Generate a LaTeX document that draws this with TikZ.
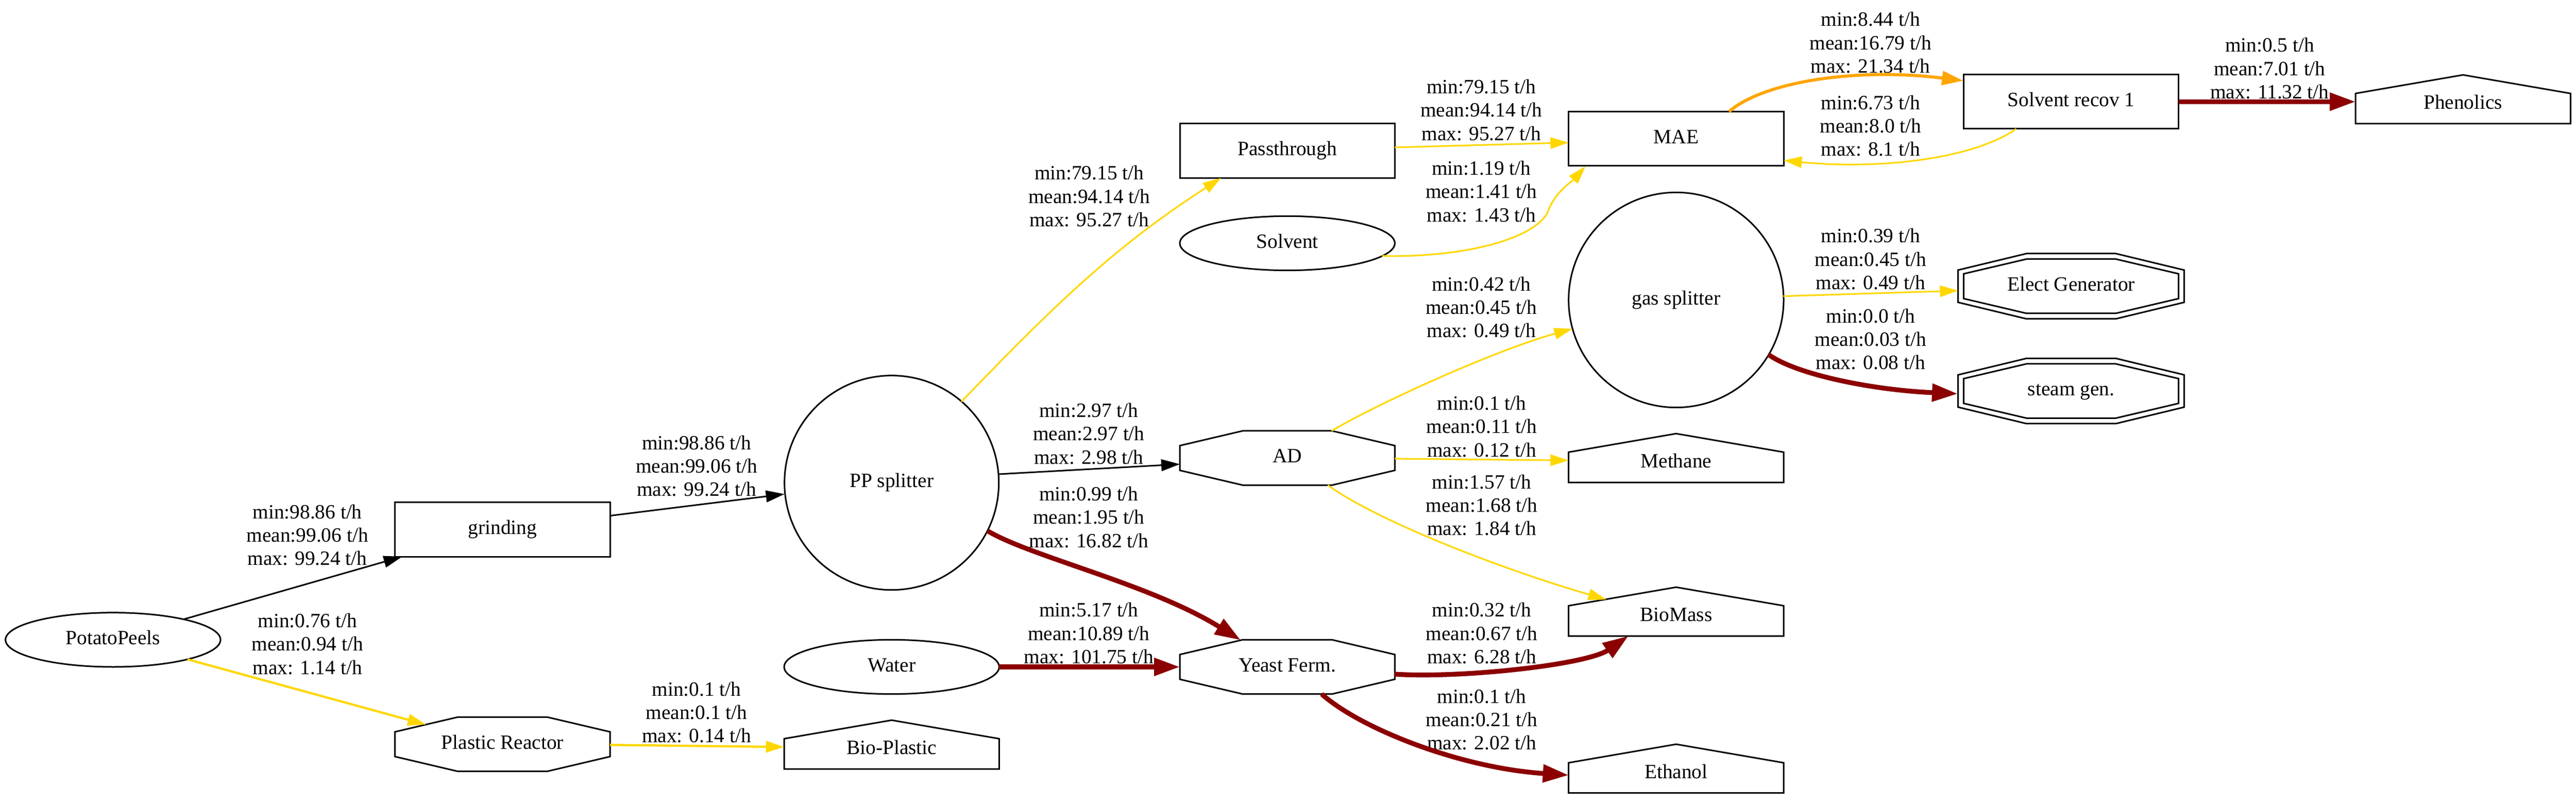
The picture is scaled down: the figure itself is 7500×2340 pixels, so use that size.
\documentclass[tikz,border=0pt]{standalone}
\usepackage{fontspec}
\setmainfont{Liberation Serif}
\usetikzlibrary{arrows.meta,calc,shapes.geometric}
\definecolor{gvgold}{HTML}{FFD700}
\definecolor{gvred}{HTML}{8B0000}
\definecolor{gvorange}{HTML}{FFA500}
\newcommand\gvoct[1]{\draw[gvline, shift={(#1)}] (-313,-36) -- (-130,-79) -- (130,-79) -- (313,-36) -- (313,36) -- (130,79) -- (-130,79) -- (-313,36) -- cycle;}
\newcommand\gvdoct[1]{\gvoct{#1}\draw[gvline, shift={(#1)}] (-329,-47) -- (-130,-95) -- (130,-95) -- (329,-47) -- (329,47) -- (130,95) -- (-130,95) -- (-329,47) -- cycle;}
\newcommand\gvhouse[1]{\draw[gvline, shift={(#1)}] (-313,71) -- (-313,-17) -- (0,-71) -- (313,-17) -- (313,71) -- cycle;}
\begin{document}
\begin{tikzpicture}[x=0.2pt,y=-0.2pt,
  every node/.style={font=\fontsize{11.8}{13.6}\selectfont, inner sep=0pt, outer sep=0pt},
  gvline/.style={line width=0.9pt, line join=miter},
  shp/.style={text height=8pt, text depth=2.5pt, minimum width=125.2pt, minimum height=31.6pt},
  ellip/.style={shp, ellipse, draw, gvline},
  boxnode/.style={shp, rectangle, draw, gvline},
  circnode/.style={circle, draw, gvline, minimum size=124.8pt, text height=8pt, text depth=2.5pt},
  octnode/.style={shp, rectangle},
  housenode/.style={rectangle, minimum width=125.2pt, minimum height=28.6pt, text height=13.9pt, text depth=2.5pt},
  lbl/.style={align=center},
  blk/.style={line width=0.9pt, black, -{Triangle[length=10.8pt, width=6.8pt]}},
  yel/.style={line width=0.95pt, gvgold, -{Triangle[length=10.6pt, width=6.6pt]}},
  org/.style={line width=1.8pt, gvorange, -{Triangle[length=12.4pt, width=8pt]}},
  red/.style={line width=2.8pt, gvred, -{Triangle[length=15pt, width=10pt]}}
]
\useasboundingbox (0,0) rectangle (7500,2340);

% nodes
\node[ellip] (potato) at (329,1862) {PotatoPeels};
\node[boxnode] (grinding) at (1463,1541) {grinding};
\node[octnode] (plastic) at (1463,2166) {Plastic Reactor};
\node[circnode] (pp) at (2596,1405) {PP splitter};
\node[ellip] (water) at (2596,1941) {Water};
\node[housenode] (bioplastic) at (2596,2167) {Bio-Plastic};
\node[octnode] (ad) at (3748,1333) {AD};
\node[octnode] (yeast) at (3748,1941) {Yeast Ferm.};
\node[boxnode] (pass) at (3748,439) {Passthrough};
\node[ellip] (solvent) at (3748,708) {Solvent};
\node[boxnode] (mae) at (4880,404) {MAE};
\node[circnode, minimum size=125.2pt] (gas) at (4880,873) {gas splitter};
\node[housenode] (methane) at (4880,1333) {Methane};
\node[housenode] (biomass) at (4880,1780) {BioMass};
\node[housenode] (ethanol) at (4880,2237) {Ethanol};
\node[boxnode] (recov) at (6030,296) {Solvent recov 1};
\node[housenode] (phenolics) at (7171,289) {Phenolics};
\node[octnode] (elect) at (6030,833) {Elect Generator};
\node[octnode] (steam) at (6030,1138) {steam gen.};

\gvoct{plastic}
\gvoct{ad}
\gvoct{yeast}
\gvdoct{elect}
\gvdoct{steam}
\gvhouse{bioplastic}
\gvhouse{methane}
\gvhouse{biomass}
\gvhouse{ethanol}
\gvhouse{phenolics}

% edge labels
\node[lbl] (l1) at (895,1557) {min:98.86 t/h\\mean:99.06 t/h\\max: 99.24 t/h};
\node[lbl] (l2) at (895,1874) {min:0.76 t/h\\mean:0.94 t/h\\max: 1.14 t/h};
\node[lbl] (l3) at (2028,1356) {min:98.86 t/h\\mean:99.06 t/h\\max: 99.24 t/h};
\node[lbl] (l4) at (2028,2073) {min:0.1 t/h\\mean:0.1 t/h\\max: 0.14 t/h};
\node[lbl] (l5) at (3171,571) {min:79.15 t/h\\mean:94.14 t/h\\max: 95.27 t/h};
\node[lbl] (l6) at (3170,1262) {min:2.97 t/h\\mean:2.97 t/h\\max: 2.98 t/h};
\node[lbl] (l7) at (3170,1505) {min:0.99 t/h\\mean:1.95 t/h\\max: 16.82 t/h};
\node[lbl] (l8) at (3170,1843) {min:5.17 t/h\\mean:10.89 t/h\\max: 101.75 t/h};
\node[lbl] (l9) at (4313,320) {min:79.15 t/h\\mean:94.14 t/h\\max: 95.27 t/h};
\node[lbl] (l10) at (4313,557) {min:1.19 t/h\\mean:1.41 t/h\\max: 1.43 t/h};
\node[lbl] (l11) at (4313,894) {min:0.42 t/h\\mean:0.45 t/h\\max: 0.49 t/h};
\node[lbl] (l12) at (4314,1241) {min:0.1 t/h\\mean:0.11 t/h\\max: 0.12 t/h};
\node[lbl] (l13) at (4314,1470) {min:1.57 t/h\\mean:1.68 t/h\\max: 1.84 t/h};
\node[lbl] (l14) at (4314,1843) {min:0.32 t/h\\mean:0.67 t/h\\max: 6.28 t/h};
\node[lbl] (l15) at (4314,2094) {min:0.1 t/h\\mean:0.21 t/h\\max: 2.02 t/h};
\node[lbl] (l16) at (5446,124) {min:8.44 t/h\\mean:16.79 t/h\\max: 21.34 t/h};
\node[lbl] (l17) at (5446,366) {min:6.73 t/h\\mean:8.0 t/h\\max: 8.1 t/h};
\node[lbl] (l18) at (5446,754) {min:0.39 t/h\\mean:0.45 t/h\\max: 0.49 t/h};
\node[lbl] (l19) at (5446,987) {min:0.0 t/h\\mean:0.03 t/h\\max: 0.08 t/h};
\node[lbl] (l20) at (6608,199) {min:0.5 t/h\\mean:7.01 t/h\\max: 11.32 t/h};

% edges
\draw[blk] ($(potato)+(207,-60)$) -- ($(grinding)+(-292,79)$);
\draw[yel, line width=1.3pt] ($(potato)+(217,57)$) -- ($(plastic)+(-223,-57)$);
\draw[blk] ($(grinding)+(313,-40)$) -- ($(pp)+(-312,33)$);
\draw[yel, line width=1.3pt] ($(plastic)+(313,2)$) -- ($(bioplastic)+(-313,7)$);
\draw[yel] ($(pp)+(203,-236)$) .. controls ($(pp)+(467,-509)$) and ($(pass)+(-512,285)$) .. ($(pass)+(-193,79)$);
\draw[blk] ($(pp)+(312,-25)$) -- ($(ad)+(-313,18)$);
\draw[red] ($(pp)+(279,140)$) .. controls ($(pp)+(404,215)$) and ($(yeast)+(-398,-241)$) .. ($(yeast)+(-136,-78)$);
\draw[red] ($(water)+(313,0)$) -- ($(yeast)+(-313,0)$);
\draw[yel] ($(pass)+(313,-10)$) -- ($(mae)+(-313,11)$);
\draw[yel] ($(solvent)+(276,37)$) .. controls ($(solvent)+(502,42)$) and ($(solvent)+(712,-8)$) .. ($(solvent)+(757,-88)$)
  .. controls ($(mae)+(-355,156)$) and ($(mae)+(-305,126)$) .. ($(mae)+(-264,80)$);
\draw[yel] ($(ad)+(129,-79)$) .. controls ($(ad)+(252,-153)$) and ($(gas)+(-530,147)$) .. ($(gas)+(-302,84)$);
\draw[yel] ($(ad)+(313,2)$) -- ($(methane)+(-313,7)$);
\draw[yel] ($(ad)+(118,79)$) .. controls ($(ad)+(252,177)$) and ($(biomass)+(-530,-130)$) .. ($(biomass)+(-203,-35)$);
\draw[red] ($(yeast)+(312,21)$) .. controls ($(yeast)+(502,34)$) and ($(biomass)+(-260,155)$) .. ($(biomass)+(-139,71)$);
\draw[red] ($(yeast)+(100,79)$) .. controls ($(yeast)+(212,179)$) and ($(ethanol)+(-630,-2)$) .. ($(ethanol)+(-313,19)$);
\draw[org] ($(mae)+(154,-79)$) .. controls ($(mae)+(250,-164)$) and ($(recov)+(-630,-101)$) .. ($(recov)+(-314,-61)$);
\draw[yel] ($(recov)+(-160,79)$) .. controls ($(recov)+(-280,164)$) and ($(mae)+(600,91)$) .. ($(mae)+(313,63)$);
\draw[yel] ($(gas)+(312,-11)$) -- ($(elect)+(-329,13)$);
\draw[red] ($(gas)+(269,159)$) .. controls ($(gas)+(350,217)$) and ($(steam)+(-580,-3)$) .. ($(steam)+(-330,8)$);
\draw[red] ($(recov)+(313,0)$) -- ($(phenolics)+(-313,7)$);
\end{tikzpicture}
\end{document}
